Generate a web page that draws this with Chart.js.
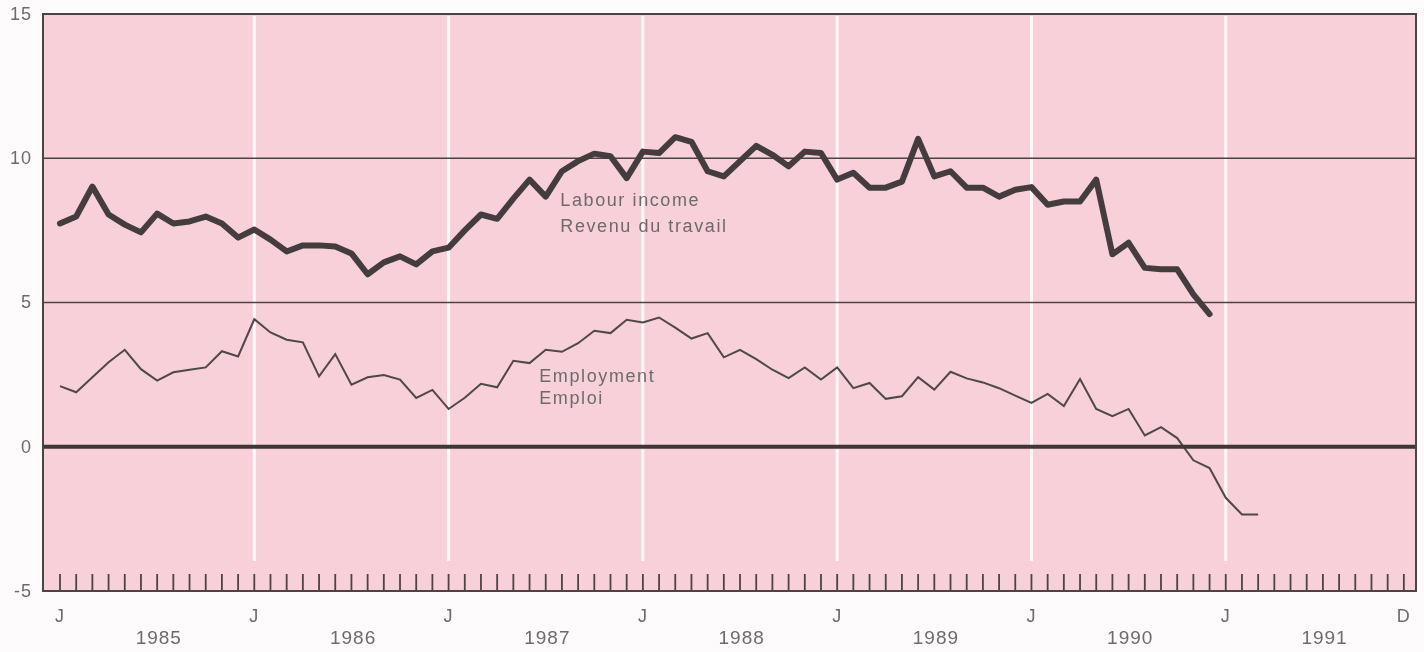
<!DOCTYPE html>
<html lang="en">
<head>
<meta charset="UTF-8">
<title>Labour income and employment</title>
<style>
  body { margin: 0; background: #fdfbfb; }
  #wrap { width: 1424px; height: 652px; }
</style>
</head>
<body>
<div id="wrap"><canvas id="grafico" width="1424" height="652"></canvas></div>
<script src="https://cdn.jsdelivr.net/npm/chart.js"></script>
<script>
// monthly values, Jan 1985 onwards (% change)
const labourIncome = [
  7.74, 7.98, 9.02, 8.05, 7.70, 7.43, 8.08, 7.74, 7.81, 7.98, 7.74, 7.25,
  7.53, 7.18, 6.77, 6.98, 6.98, 6.94, 6.70, 5.98, 6.39, 6.60, 6.32, 6.77,
  6.90, 7.50, 8.05, 7.90, 8.60, 9.26, 8.67, 9.55, 9.90, 10.16, 10.07, 9.31,
  10.23, 10.18, 10.73, 10.57, 9.55, 9.37, 9.90, 10.43, 10.12, 9.72, 10.23, 10.18,
  9.26, 9.50, 8.98, 8.98, 9.19, 10.67, 9.37, 9.55, 8.98, 8.98, 8.67, 8.91,
  9.00, 8.39, 8.50, 8.50, 9.26, 6.67, 7.07, 6.20, 6.15, 6.15, 5.28, 4.60
];
const employment = [
  2.10, 1.89, 2.41, 2.93, 3.36, 2.69, 2.29, 2.58, 2.67, 2.75, 3.31, 3.13,
  4.42, 3.96, 3.71, 3.62, 2.44, 3.21, 2.15, 2.41, 2.49, 2.33, 1.69, 1.97,
  1.31, 1.70, 2.18, 2.06, 2.98, 2.90, 3.36, 3.29, 3.59, 4.02, 3.94, 4.40,
  4.31, 4.48, 4.13, 3.75, 3.94, 3.10, 3.36, 3.04, 2.67, 2.38, 2.75, 2.33,
  2.75, 2.03, 2.21, 1.66, 1.75, 2.41, 1.98, 2.60, 2.37, 2.23, 2.03, 1.77,
  1.52, 1.83, 1.41, 2.35, 1.31, 1.06, 1.31, 0.39, 0.68, 0.30, -0.47, -0.74,
  -1.77, -2.35, -2.35
];
const years = ['1985', '1986', '1987', '1988', '1989', '1990', '1991'];
const yTicks = [15, 10, 5, 0, -5];
const monthLabels = { 0: 'J', 12: 'J', 24: 'J', 36: 'J', 48: 'J', 60: 'J', 72: 'J', 83: 'D' };

const rosa = '#f7d0d9';
const escuro = '#4b4345';
const texto = '#6e6a6b';
const fonte = '"Liberation Sans", Arial, sans-serif';

function pontos(valores) {
  return valores.map((v, i) => ({ x: i, y: v }));
}

const desenhoFundo = {
  id: 'desenhoFundo',
  beforeDatasetsDraw(chart) {
    const c = chart.ctx, a = chart.chartArea;
    const x = chart.scales.x, y = chart.scales.y;
    c.save();
    c.fillStyle = rosa;
    c.fillRect(a.left, a.top, a.right - a.left, a.bottom - a.top);

    // white lines at each January
    c.strokeStyle = 'rgba(255,255,255,0.85)';
    c.lineWidth = 3;
    for (let m = 12; m <= 72; m += 12) {
      const px = x.getPixelForValue(m);
      c.beginPath(); c.moveTo(px, a.top + 2); c.lineTo(px, a.bottom - 30); c.stroke();
    }

    // reference lines at 5 and 10
    c.strokeStyle = escuro;
    c.lineWidth = 1.6;
    [5, 10].forEach(v => {
      const py = y.getPixelForValue(v);
      c.beginPath(); c.moveTo(a.left, py); c.lineTo(a.right, py); c.stroke();
    });

    // monthly ticks along the bottom
    c.lineWidth = 1.8;
    for (let m = 0; m <= 83; m++) {
      const px = x.getPixelForValue(m);
      c.beginPath(); c.moveTo(px, a.bottom); c.lineTo(px, a.bottom - 17); c.stroke();
    }
    c.restore();
  },
  afterDatasetsDraw(chart) {
    const c = chart.ctx, a = chart.chartArea;
    const x = chart.scales.x, y = chart.scales.y;
    c.save();
    // zero line
    c.strokeStyle = '#3e3638';
    c.lineWidth = 4;
    const y0 = y.getPixelForValue(0);
    c.beginPath(); c.moveTo(a.left, y0); c.lineTo(a.right, y0); c.stroke();

    // frame
    c.strokeStyle = escuro;
    c.lineWidth = 2;
    c.strokeRect(a.left, a.top, a.right - a.left, a.bottom - a.top);

    // y labels
    c.fillStyle = texto;
    c.font = '18px ' + fonte;
    c.letterSpacing = '1px';
    c.textAlign = 'right';
    c.textBaseline = 'middle';
    yTicks.forEach(v => c.fillText(String(v), 32, y.getPixelForValue(v) + 1));

    // month letters and years
    c.textAlign = 'center';
    Object.keys(monthLabels).forEach(m => {
      c.fillText(monthLabels[m], x.getPixelForValue(Number(m)), 617);
    });
    c.font = '19px ' + fonte;
    years.forEach((ano, i) => c.fillText(ano, x.getPixelForValue(i * 12 + 6.1), 639));

    // series labels
    c.font = '18px ' + fonte;
    c.letterSpacing = '1.6px';
    c.textAlign = 'left';
    c.fillText('Labour income', x.getPixelForValue(30.9), y.getPixelForValue(8.5));
    c.fillText('Revenu du travail', x.getPixelForValue(30.9), y.getPixelForValue(7.6));
    c.fillText('Employment', x.getPixelForValue(29.6), y.getPixelForValue(2.4));
    c.fillText('Emploi', x.getPixelForValue(29.6), y.getPixelForValue(1.65));
    c.restore();
  }
};

new Chart(document.getElementById('grafico'), {
  type: 'line',
  data: {
    datasets: [
      {
        label: 'Labour income',
        data: pontos(labourIncome),
        borderColor: '#443c3e',
        borderWidth: 6,
        pointRadius: 0,
        tension: 0,
        borderJoinStyle: 'round',
        borderCapStyle: 'round'
      },
      {
        label: 'Employment',
        data: pontos(employment),
        borderColor: '#4f4749',
        borderWidth: 2,
        pointRadius: 0,
        tension: 0
      }
    ]
  },
  options: {
    responsive: false,
    animation: false,
    layout: { padding: { left: 43, top: 14, right: 8, bottom: 61 } },
    plugins: { legend: { display: false }, tooltip: { enabled: false } },
    scales: {
      x: { type: 'linear', min: -1.05, max: 83.75, display: false },
      y: { min: -5, max: 15, display: false }
    }
  },
  plugins: [desenhoFundo]
});
</script>
</body>
</html>
